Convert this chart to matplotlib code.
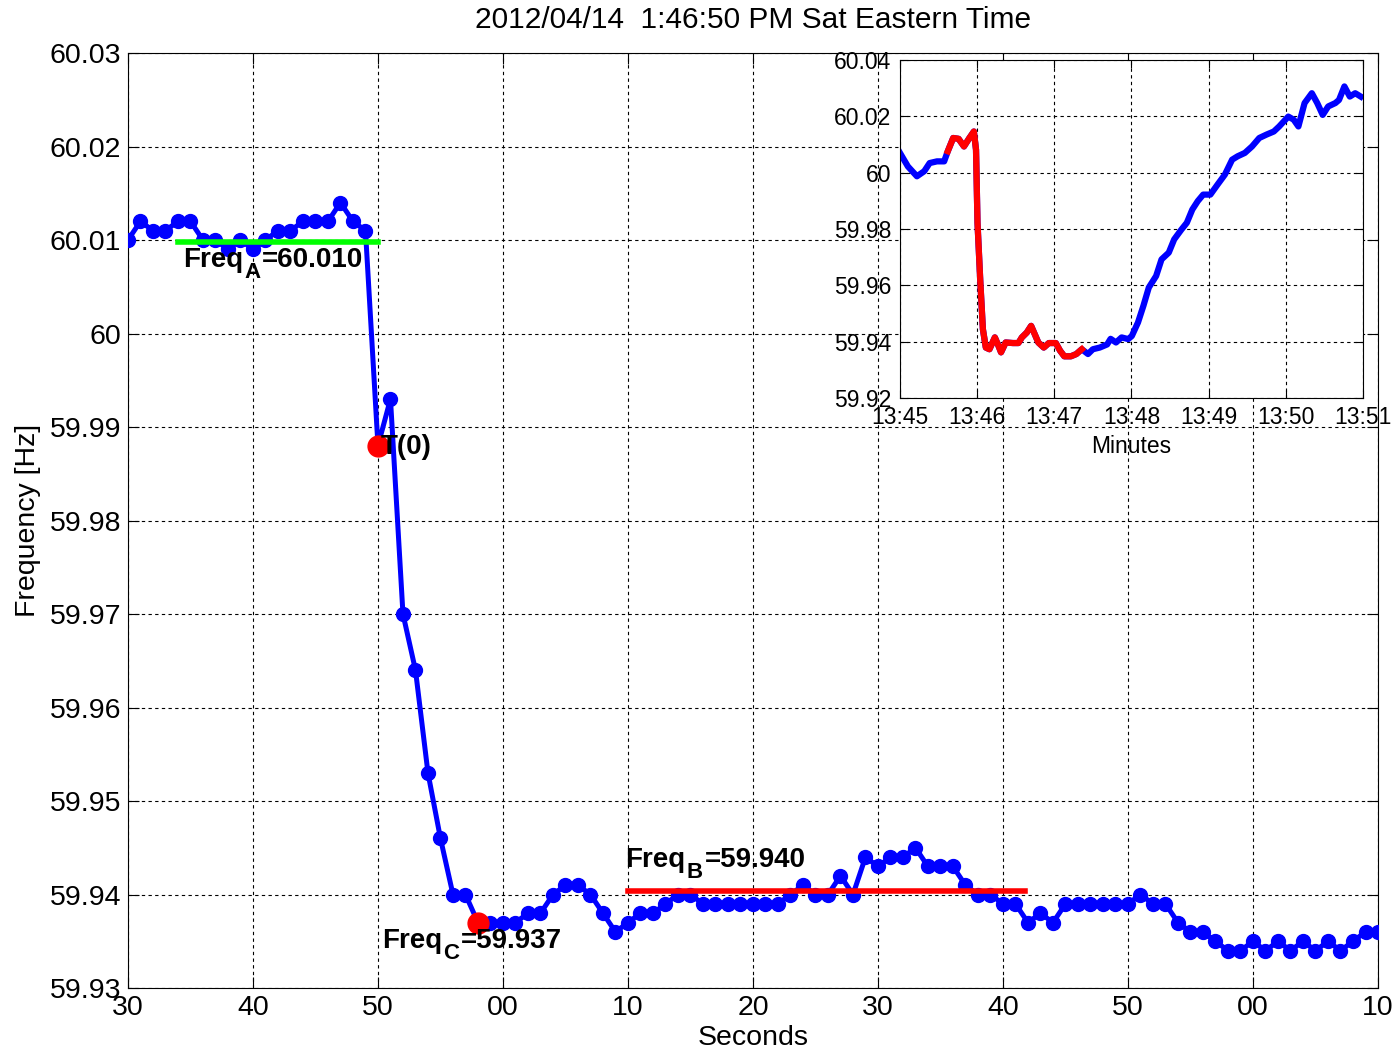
import numpy as np
import matplotlib
matplotlib.use("Agg")
import matplotlib.pyplot as plt

plt.rcParams['font.family'] = ['Liberation Sans', 'DejaVu Sans']

# main series: one sample per second, 30 .. 130 s
sec = np.arange(30, 131)
freq = [60.010, 60.012, 60.011, 60.011, 60.012, 60.012, 60.010, 60.010, 60.009, 60.010,
        60.009, 60.010, 60.011, 60.011, 60.012, 60.012, 60.012, 60.014, 60.012, 60.011,
        59.988, 59.993, 59.970, 59.964, 59.953, 59.946, 59.940, 59.940, 59.937, 59.937,
        59.937, 59.937, 59.938, 59.938, 59.940, 59.941, 59.941, 59.940, 59.938, 59.936,
        59.937, 59.938, 59.938, 59.939, 59.940, 59.940, 59.939, 59.939, 59.939, 59.939,
        59.939, 59.939, 59.939, 59.940, 59.941, 59.940, 59.940, 59.942, 59.940, 59.944,
        59.943, 59.944, 59.944, 59.945, 59.943, 59.943, 59.943, 59.941, 59.940, 59.940,
        59.939, 59.939, 59.937, 59.938, 59.937, 59.939, 59.939, 59.939, 59.939, 59.939,
        59.939, 59.940, 59.939, 59.939, 59.937, 59.936, 59.936, 59.935, 59.934, 59.934,
        59.935, 59.934, 59.935, 59.934, 59.935, 59.934, 59.935, 59.934, 59.935, 59.936,
        59.936]
sec_ticks = np.arange(30, 131, 10)
sec_labels = ['30', '40', '50', '00', '10', '20', '30', '40', '50', '00', '10']
f_ticks = np.round(np.arange(59.93, 60.031, 0.01), 2)
f_labels = ['59.93', '59.94', '59.95', '59.96', '59.97', '59.98', '59.99', '60', '60.01', '60.02', '60.03']

# reference levels
freq_a, a_span = 60.0098, (34, 50)
freq_b, b_span = 59.9404, (70, 101.8)
t0 = (50, 59.988)
freq_c = (58, 59.937)

# inset: minutes after 13:45
ins_min = [0.0, 0.103, 0.22, 0.315, 0.385, 0.48, 0.573, 0.62, 0.69, 0.76, 0.83, 0.9, 0.958,
           0.986, 1.005, 1.042, 1.075, 1.113, 1.16, 1.23, 1.277, 1.31, 1.37, 1.465, 1.535,
           1.58, 1.643, 1.70, 1.746, 1.793, 1.864, 1.93, 2.02, 2.075, 2.13, 2.216, 2.286,
           2.357, 2.437, 2.5, 2.59, 2.685, 2.73, 2.80, 2.873, 2.958, 3.005, 3.085, 3.155,
           3.225, 3.32, 3.39, 3.484, 3.554, 3.648, 3.718, 3.789, 3.86, 3.93, 4.023, 4.117,
           4.211, 4.305, 4.376, 4.47, 4.563, 4.657, 4.75, 4.845, 4.915, 5.033, 5.103, 5.164,
           5.244, 5.338, 5.408, 5.479, 5.55, 5.643, 5.69, 5.76, 5.83, 5.9, 5.972]
ins_f = [60.0070, 60.0022, 59.9987, 60.0005, 60.0034, 60.0040, 60.0040, 60.0076, 60.0123,
         60.0120, 60.0093, 60.0123, 60.0146, 60.0081, 59.9822, 59.9610, 59.9444, 59.9379,
         59.9373, 59.9415, 59.9385, 59.9362, 59.9397, 59.9395, 59.9395, 59.9415, 59.9432,
         59.9456, 59.9427, 59.9397, 59.9379, 59.9395, 59.9395, 59.9368, 59.9348, 59.9348,
         59.9356, 59.9373, 59.9356, 59.9373, 59.9379, 59.9390, 59.9410, 59.9397, 59.9415,
         59.9409, 59.9420, 59.9468, 59.9527, 59.9592, 59.9633, 59.9692, 59.9716, 59.9763,
         59.9798, 59.9822, 59.9869, 59.9899, 59.9922, 59.9922, 59.9958, 59.9993, 60.0046,
         60.0058, 60.0070, 60.0093, 60.0123, 60.0135, 60.0146, 60.0164, 60.0199, 60.0188,
         60.0164, 60.0247, 60.0282, 60.0247, 60.0205, 60.0235, 60.0247, 60.0258, 60.0306,
         60.0270, 60.0282, 60.0270]
red_from, red_to = 0.62, 2.36
ins_xticks = np.arange(0, 7)
ins_xlabels = ['13:45', '13:46', '13:47', '13:48', '13:49', '13:50', '13:51']
ins_yticks = np.round(np.arange(59.92, 60.041, 0.02), 2)
ins_ylabels = ['59.92', '59.94', '59.96', '59.98', '60', '60.02', '60.04']

grid_kw = dict(color='black', linestyle=(0, (3, 3)), linewidth=0.8)


def sub_label(ax, x, y, head, sub, tail, size=20):
    # MATLAB style subscript: chain three texts, the middle one dropped
    t1 = ax.text(x, y, head, fontsize=size, fontweight='bold', zorder=6)
    t2 = ax.annotate(sub, xy=(1, 0), xycoords=t1, xytext=(1, -7), textcoords='offset points',
                     fontsize=size * 0.8, fontweight='bold', va='bottom', zorder=6)
    ax.annotate(tail, xy=(1, 0), xycoords=t2, xytext=(1, 7), textcoords='offset points',
                fontsize=size, fontweight='bold', va='bottom', zorder=6)


fig = plt.figure(figsize=(13.97, 10.52), dpi=100)
ax = fig.add_axes([0.0916, 0.0608, 0.8948, 0.8888])
ax.plot(sec, freq, '-o', color='blue', lw=3.6, ms=10, zorder=3)
ax.plot(a_span, [freq_a, freq_a], color='#00ff00', lw=4, zorder=4)
ax.plot(b_span, [freq_b, freq_b], color='red', lw=4, zorder=4)
ax.plot(*t0, 'o', color='red', ms=15, zorder=5)
ax.plot(*freq_c, 'o', color='red', ms=15, zorder=5)

sub_label(ax, 34.4, 60.0071, 'Freq', 'A', '=60.010')
sub_label(ax, 69.8, 59.9429, 'Freq', 'B', '=59.940')
sub_label(ax, 50.3, 59.9343, 'Freq', 'C', '=59.937')
ax.text(50.2, 59.9871, 'T(0)', fontsize=20, fontweight='bold', zorder=6)

ax.set_xlim(30, 130)
ax.set_ylim(59.93, 60.03)
ax.set_xticks(sec_ticks)
ax.set_xticklabels(sec_labels)
ax.set_yticks(f_ticks)
ax.set_yticklabels(f_labels)
ax.tick_params(direction='in', top=True, right=True, length=8, labelsize=20.5, pad=5)
ax.grid(True, **grid_kw)
ax.set_xlabel('Seconds', fontsize=20.5, labelpad=3)
ax.set_ylabel('Frequency [Hz]', fontsize=20.5, labelpad=6)
ax.set_title('2012/04/14  1:46:50 PM Sat Eastern Time', fontsize=21.5, pad=18)

ins = fig.add_axes([0.6442, 0.6217, 0.3314, 0.3213])
ins.set_facecolor('white')
m = np.asarray(ins_min)
fv = np.asarray(ins_f)
ins.plot(m, fv, color='blue', lw=4.5)
red = (m >= red_from) & (m <= red_to)
ins.plot(m[red], fv[red], color='red', lw=4.5)
ins.set_xlim(0, 6)
ins.set_ylim(59.92, 60.04)
ins.set_xticks(ins_xticks)
ins.set_xticklabels(ins_xlabels)
ins.set_yticks(ins_yticks)
ins.set_yticklabels(ins_ylabels)
ins.tick_params(direction='in', top=True, right=True, length=6, labelsize=16.5, pad=6)
ins.grid(True, **grid_kw)
ins.set_xlabel('Minutes', fontsize=16.5, labelpad=4)

fig.savefig('out.png', dpi=100)
